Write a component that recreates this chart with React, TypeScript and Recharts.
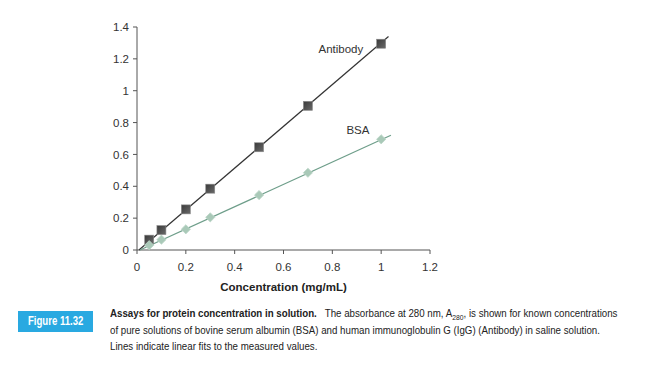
import React from 'react';
import { ScatterChart, Scatter, XAxis, YAxis, ReferenceDot } from 'recharts';

// measured absorbance (A280) vs concentration (mg/mL)
const concentrations = [0.05, 0.1, 0.2, 0.3, 0.5, 0.7, 1];
const antibodyValues = [0.065, 0.125, 0.255, 0.385, 0.645, 0.905, 1.295];
const bsaValues = [0.03, 0.065, 0.13, 0.205, 0.345, 0.485, 0.695];

// linear fit end points
const antibodyFitX = [0.008, 1.03];
const antibodyFitY = [0, 1.34];
const bsaFitX = [0.012, 1.04];
const bsaFitY = [0, 0.72];

const xTicks = [0, 0.2, 0.4, 0.6, 0.8, 1, 1.2];
const yTicks = [0, 0.2, 0.4, 0.6, 0.8, 1, 1.2, 1.4];

const antibodyPoints = concentrations.map((x, i) => ({ x, y: antibodyValues[i] }));
const bsaPoints = concentrations.map((x, i) => ({ x, y: bsaValues[i] }));
const antibodyFit = antibodyFitX.map((x, i) => ({ x, y: antibodyFitY[i] }));
const bsaFit = bsaFitX.map((x, i) => ({ x, y: bsaFitY[i] }));

const fmt = (v: number) => String(v);
const font = 'Arial, "Liberation Sans", sans-serif';

const noDot = () => null;

const SquareDot = (props: any) => {
  const { cx, cy } = props;
  if (cx == null || cy == null) return null;
  return <rect x={cx - 4.5} y={cy - 4.5} width={9} height={9} fill="url(#sqGrad)" stroke="#8a8a8a" strokeWidth={0.6} />;
};

const DiamondDot = (props: any) => {
  const { cx, cy } = props;
  if (cx == null || cy == null) return null;
  const r = 4.6;
  return (
    <polygon
      points={`${cx},${cy - r} ${cx + r},${cy} ${cx},${cy + r} ${cx - r},${cy}`}
      fill="#a9c9b8"
      stroke="#bcd6c8"
      strokeWidth={0.8}
      strokeLinejoin="round"
    />
  );
};

const App: React.FC = () => (
  <div style={{ position: 'absolute', left: 0, top: 0, width: 650, height: 391, background: '#fff', fontFamily: font }}>
    <ScatterChart width={650} height={300} margin={{ top: 27, right: 220, bottom: 20, left: 97 }}>
      <defs>
        <linearGradient id="sqGrad" x1="0" y1="0" x2="1" y2="1">
          <stop offset="0%" stopColor="#3a3a3a" />
          <stop offset="100%" stopColor="#6a6a6a" />
        </linearGradient>
      </defs>
      <XAxis
        type="number"
        dataKey="x"
        domain={[0, 1.2]}
        ticks={xTicks}
        tickFormatter={fmt}
        stroke="#555"
        tick={{ fill: '#333', fontSize: 11.5 }}
        tickSize={4}
        tickMargin={9}
        height={30}
        label={{ value: 'Concentration (mg/mL)', position: 'insideBottom', offset: -11, fill: '#222', fontSize: 11.5, fontWeight: 'bold' }}
      />
      <YAxis
        type="number"
        dataKey="y"
        domain={[0, 1.4]}
        ticks={yTicks}
        tickFormatter={fmt}
        stroke="#555"
        tick={{ fill: '#333', fontSize: 11.5 }}
        tickSize={4}
        tickMargin={4}
        width={40}
      />
      <Scatter data={antibodyFit} line={{ stroke: '#333', strokeWidth: 1.2 }} shape={noDot} isAnimationActive={false} />
      <Scatter data={bsaFit} line={{ stroke: '#6e9e8a', strokeWidth: 1.2 }} shape={noDot} isAnimationActive={false} />
      <Scatter data={antibodyPoints} shape={SquareDot} isAnimationActive={false} />
      <Scatter data={bsaPoints} shape={DiamondDot} isAnimationActive={false} />
      <ReferenceDot x={0.835} y={1.26} r={0} fill="none" stroke="none"
        label={{ value: 'Antibody', position: 'center', fill: '#333', fontSize: 11.5 }} />
      <ReferenceDot x={0.905} y={0.752} r={0} fill="none" stroke="none"
        label={{ value: 'BSA', position: 'center', fill: '#333', fontSize: 11.5 }} />
    </ScatterChart>
    <div style={{
      position: 'absolute', left: 18, top: 311, width: 75, height: 21, background: '#29a9e1',
      color: '#fff', fontWeight: 'bold', fontSize: 12, lineHeight: '21px', textAlign: 'center',
      whiteSpace: 'nowrap', overflow: 'hidden',
    }}>
      <span style={{ display: 'inline-block', transform: 'scaleX(0.8)' }}>Figure 11.32</span>
    </div>
    <div style={{
      position: 'absolute', left: 110, top: 305, fontSize: 11.5,
      lineHeight: '16.5px', color: '#222', whiteSpace: 'nowrap',
      transform: 'scaleX(0.845)', transformOrigin: '0 0',
    }}>
      <div><b>Assays for protein concentration in solution.</b>&nbsp;&nbsp; The absorbance at 280 nm, A<sub style={{ fontSize: 8, lineHeight: 0 }}>280</sub>, is shown for known concentrations</div>
      <div>of pure solutions of bovine serum albumin (BSA) and human immunoglobulin G (IgG) (Antibody) in saline solution.</div>
      <div>Lines indicate linear fits to the measured values.</div>
    </div>
  </div>
);

export default App;
